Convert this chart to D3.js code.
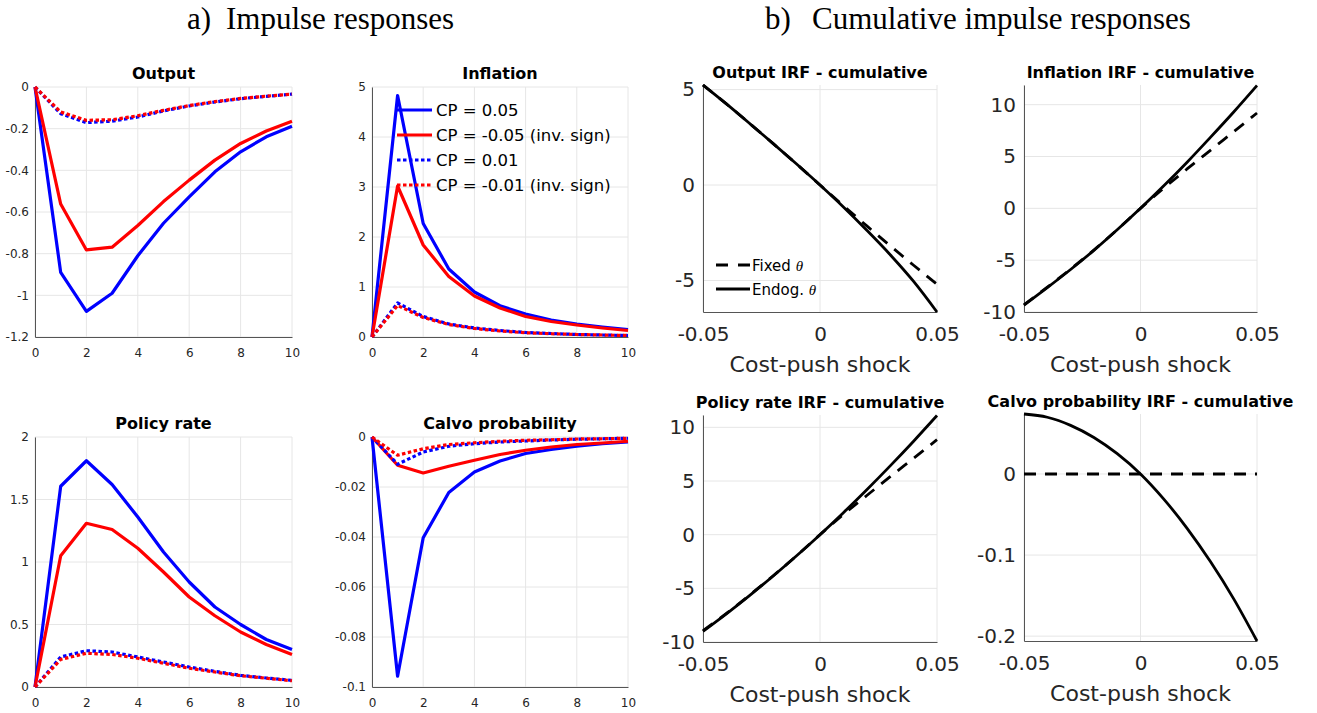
<!DOCTYPE html>
<html>
<head>
<meta charset="utf-8">
<title>Impulse responses</title>
<script src="https://cdn.jsdelivr.net/npm/d3@7"></script>
<style>
  body { margin: 0; background: #fff; }
  svg { display: block; }
  text { font-family: "DejaVu Sans", sans-serif; }
</style>
</head>
<body>
<svg width="1317" height="713"></svg>
<script>

// ---- a) impulse responses, horizon 0..10 ----
var horizon = [0, 1, 2, 3, 4, 5, 6, 7, 8, 9, 10];
var horizonTicks = [0, 2, 4, 6, 8, 10];

var outputCP05  = [0, -0.89, -1.077, -0.99, -0.81, -0.654, -0.527, -0.407, -0.311, -0.239, -0.188];
var outputCPm05 = [0, -0.562, -0.782, -0.769, -0.665, -0.55, -0.447, -0.351, -0.271, -0.211, -0.164];
var outputCP01  = [0, -0.128, -0.171, -0.164, -0.144, -0.115, -0.091, -0.072, -0.056, -0.045, -0.034];
var outputCPm01 = [0, -0.12, -0.16, -0.157, -0.138, -0.112, -0.089, -0.07, -0.055, -0.044, -0.034];

var inflationCP05  = [0, 4.83, 2.27, 1.36, 0.9, 0.625, 0.46, 0.34, 0.26, 0.2, 0.15];
var inflationCPm05 = [0, 3.02, 1.84, 1.21, 0.82, 0.58, 0.41, 0.31, 0.24, 0.18, 0.13];
var inflationCP01  = [0, 0.68, 0.41, 0.26, 0.18, 0.13, 0.09, 0.07, 0.05, 0.04, 0.03];
var inflationCPm01 = [0, 0.63, 0.39, 0.25, 0.17, 0.12, 0.085, 0.065, 0.05, 0.04, 0.03];

var policyCP05  = [0, 1.606, 1.81, 1.62, 1.36, 1.08, 0.84, 0.64, 0.5, 0.38, 0.3];
var policyCPm05 = [0, 1.05, 1.31, 1.26, 1.11, 0.92, 0.72, 0.57, 0.44, 0.34, 0.26];
var policyCP01  = [0, 0.24, 0.29, 0.28, 0.24, 0.2, 0.16, 0.125, 0.093, 0.072, 0.053];
var policyCPm01 = [0, 0.22, 0.27, 0.26, 0.23, 0.19, 0.15, 0.12, 0.09, 0.07, 0.05];

var calvoCP05  = [0, -0.0957, -0.0403, -0.0222, -0.014, -0.0096, -0.0066, -0.005, -0.0037, -0.0027, -0.002];
var calvoCPm05 = [0, -0.0113, -0.0144, -0.0117, -0.0093, -0.007, -0.0053, -0.004, -0.003, -0.0024, -0.0017];
var calvoCP01  = [0, -0.0109, -0.006, -0.0037, -0.0027, -0.002, -0.0016, -0.0012, -0.0009, -0.0007, -0.0005];
var calvoCPm01 = [0, -0.0073, -0.0047, -0.003, -0.0023, -0.0017, -0.0013, -0.0011, -0.0008, -0.0007, -0.0005];

var outputTicks    = [-1.2, -1, -0.8, -0.6, -0.4, -0.2, 0];
var inflationTicks = [0, 1, 2, 3, 4, 5];
var policyTicks    = [0, 0.5, 1, 1.5, 2];
var calvoTicks     = [-0.1, -0.08, -0.06, -0.04, -0.02, 0];

var legendLabels = ["CP = 0.05", "CP = -0.05 (inv. sign)", "CP = 0.01", "CP = -0.01 (inv. sign)"];

// ---- b) cumulative responses against the cost-push shock ----
var shockGrid  = [-0.05, -0.04, -0.03, -0.02, -0.01, 0, 0.01, 0.02, 0.03, 0.04, 0.05];
var shockTicks = [-0.05, 0, 0.05];

var outputCumFixed = [5.24, 4.25, 3.22, 2.17, 1.1, 0, -1.08, -2.14, -3.18, -4.2, -5.2];
var outputCumEndog = [5.24, 4.25, 3.22, 2.17, 1.1, 0, -1.15, -2.37, -3.65, -5.05, -6.65];
var inflationCumFixed = [-9.3, -7.6, -5.86, -4.02, -2.06, 0, 1.95, 3.8, 5.6, 7.4, 9.2];
var inflationCumEndog = [-9.35, -7.65, -5.9, -4.05, -2.07, 0, 2.17, 4.45, 6.85, 9.3, 11.85];
var policyCumFixed = [-8.95, -7.33, -5.62, -3.83, -1.96, 0, 1.88, 3.65, 5.4, 7.12, 8.85];
var policyCumEndog = [-9.0, -7.37, -5.65, -3.85, -1.97, 0, 2.05, 4.19, 6.41, 8.71, 11.1];
var calvoCumFixed = [0, 0, 0, 0, 0, 0, 0, 0, 0, 0, 0];
var calvoCumEndog = [0.074, 0.07, 0.06, 0.045, 0.025, 0, -0.031, -0.067, -0.108, -0.154, -0.206];

var cumTicksOutput = [-5, 0, 5];
var cumTicks10     = [-10, -5, 0, 5, 10];
var cumTicksCalvo  = [-0.2, -0.1, 0];

var svg = d3.select("svg");
var BLUE = "#0000ff", RED = "#ff0000";

function fmt(d) { return String(d); }

// draws grid, axes, title; returns the scales
function panel(p) {
    var x = d3.scaleLinear().domain(p.xDomain).range([p.left, p.left + p.width]);
    var y = d3.scaleLinear().domain(p.yDomain).range([p.top + p.height, p.top]);
    var g = svg.append("g");

    // grid
    g.selectAll(".vg").data(p.xTicks).join("line")
        .attr("x1", d => x(d)).attr("x2", d => x(d))
        .attr("y1", p.top).attr("y2", p.top + p.height)
        .attr("stroke", "#e6e6e6").attr("stroke-width", 1);
    g.selectAll(".hg").data(p.yTicks).join("line")
        .attr("x1", p.left).attr("x2", p.left + p.width)
        .attr("y1", d => y(d)).attr("y2", d => y(d))
        .attr("stroke", "#e6e6e6").attr("stroke-width", 1);

    var xa = g.append("g").attr("transform", "translate(0," + (p.top + p.height) + ")")
        .call(d3.axisBottom(x).tickValues(p.xTicks).tickFormat(fmt).tickSize(0).tickPadding(p.xPad));
    var ya = g.append("g").attr("transform", "translate(" + p.left + ",0)")
        .call(d3.axisLeft(y).tickValues(p.yTicks).tickFormat(fmt).tickSize(0).tickPadding(p.yPad));
    [xa, ya].forEach(function(a) {
        a.select(".domain").attr("stroke", "#555").attr("stroke-width", 1);
        a.selectAll("text")
            .attr("font-family", "DejaVu Sans, sans-serif")
            .attr("font-size", p.tickFont)
            .attr("fill", "#262626");
    });

    g.append("text")
        .attr("x", p.left + p.width / 2).attr("y", p.top - p.titleGap)
        .attr("text-anchor", "middle")
        .attr("font-size", 16).attr("font-weight", "bold")
        .attr("fill", "#000")
        .text(p.title);

    if (p.xlabel) {
        g.append("text")
            .attr("x", p.left + p.width / 2).attr("y", p.top + p.height + 60)
            .attr("text-anchor", "middle")
            .attr("font-size", 22).attr("fill", "#262626")
            .text(p.xlabel);
    }
    return { g: g, x: x, y: y };
}

function irfPanel(p, series) {
    var pn = panel(Object.assign({ xDomain: [0, 10], xTicks: horizonTicks, xPad: 11, yPad: 6, tickFont: 12, titleGap: 8 }, p));
    var line = d3.line().x((d, i) => pn.x(horizon[i])).y(d => pn.y(d));
    series.forEach(function(s) {
        pn.g.append("path")
            .attr("d", line(s.values))
            .attr("fill", "none")
            .attr("stroke", s.color)
            .attr("stroke-width", 3.2)
            .attr("stroke-linejoin", "round")
            .attr("stroke-dasharray", s.dotted ? "3.5,2.5" : null);
    });
    return pn;
}

function cumPanel(p, fixed, endog) {
    var pn = panel(Object.assign({ xDomain: [-0.05, 0.05], xTicks: shockTicks, xPad: 15, yPad: 8, tickFont: 20, titleGap: 7, xlabel: "Cost-push shock" }, p));
    var line = d3.line().curve(d3.curveMonotoneX)
        .x((d, i) => pn.x(shockGrid[i])).y(d => pn.y(d));
    pn.g.append("path").attr("d", line(endog))
        .attr("fill", "none").attr("stroke", "#000").attr("stroke-width", 2.8);
    pn.g.append("path").attr("d", line(fixed))
        .attr("fill", "none").attr("stroke", "#000").attr("stroke-width", 2.8)
        .attr("stroke-dasharray", "12,9");
    return pn;
}

// ---- section headings ----
var head = svg.append("g").attr("font-size", 31).attr("fill", "#000");
[["a)", 187], ["Impulse responses", 226], ["b)", 765], ["Cumulative impulse responses", 812]].forEach(function(h) {
    head.append("text").attr("x", h[1]).attr("y", 28.5)
        .style("font-family", "'Liberation Serif', 'Times New Roman', serif")
        .text(h[0]);
});

// ---- a) panels ----
function fourSeries(a, b, c, d) {
    return [
        { values: a, color: BLUE, dotted: false },
        { values: b, color: RED, dotted: false },
        { values: c, color: BLUE, dotted: true },
        { values: d, color: RED, dotted: true }
    ];
}

irfPanel({ left: 35, top: 87, width: 257, height: 250, yDomain: [-1.2, 0], yTicks: outputTicks, title: "Output" },
    fourSeries(outputCP05, outputCPm05, outputCP01, outputCPm01));
irfPanel({ left: 372, top: 87, width: 256, height: 250, yDomain: [0, 5], yTicks: inflationTicks, title: "Inflation" },
    fourSeries(inflationCP05, inflationCPm05, inflationCP01, inflationCPm01));
irfPanel({ left: 35, top: 437, width: 257, height: 250, yDomain: [0, 2], yTicks: policyTicks, title: "Policy rate" },
    fourSeries(policyCP05, policyCPm05, policyCP01, policyCPm01));
irfPanel({ left: 372, top: 437, width: 256, height: 250, yDomain: [-0.1, 0], yTicks: calvoTicks, title: "Calvo probability" },
    fourSeries(calvoCP05, calvoCPm05, calvoCP01, calvoCPm01));

// legend inside the inflation panel
var styles = fourSeries([], [], [], []);
var leg = svg.append("g");
legendLabels.forEach(function(lbl, i) {
    var ly = 110 + i * 25;
    leg.append("line").attr("x1", 397).attr("x2", 432).attr("y1", ly).attr("y2", ly)
        .attr("stroke", styles[i].color).attr("stroke-width", 3.2)
        .attr("stroke-dasharray", styles[i].dotted ? "3.5,2.5" : null);
    leg.append("text").attr("x", 436).attr("y", ly + 6)
        .attr("font-size", 16.5).attr("fill", "#000").text(lbl);
});

// ---- b) panels ----
var outCum = cumPanel({ left: 703, top: 85, width: 234, height: 227, yDomain: [-6.65, 5.24], yTicks: cumTicksOutput, title: "Output IRF - cumulative" },
    outputCumFixed, outputCumEndog);
cumPanel({ left: 1024, top: 85, width: 233, height: 227, yDomain: [-10, 11.9], yTicks: cumTicks10, title: "Inflation IRF - cumulative" },
    inflationCumFixed, inflationCumEndog);
cumPanel({ left: 703, top: 415, width: 234, height: 227, yDomain: [-10, 11.15], yTicks: cumTicks10, title: "Policy rate IRF - cumulative" },
    policyCumFixed, policyCumEndog);
cumPanel({ left: 1024, top: 414, width: 233, height: 227, yDomain: [-0.206, 0.074], yTicks: cumTicksCalvo, title: "Calvo probability IRF - cumulative" },
    calvoCumFixed, calvoCumEndog);

// legend in the output cumulative panel
var cumLegend = [{ name: "Fixed ", dash: "12,10" }, { name: "Endog. ", dash: null }];
cumLegend.forEach(function(e, i) {
    var ly = 265 + i * 24;
    outCum.g.append("line").attr("x1", 716).attr("x2", 750).attr("y1", ly).attr("y2", ly)
        .attr("stroke", "#000").attr("stroke-width", 2.8).attr("stroke-dasharray", e.dash);
    var t = outCum.g.append("text").attr("x", 752).attr("y", ly + 5.5)
        .attr("font-size", 15).attr("fill", "#000");
    t.append("tspan").text(e.name);
    t.append("tspan").attr("font-family", "Liberation Serif, serif").attr("font-style", "italic").text("θ");
});

</script>
</body>
</html>
